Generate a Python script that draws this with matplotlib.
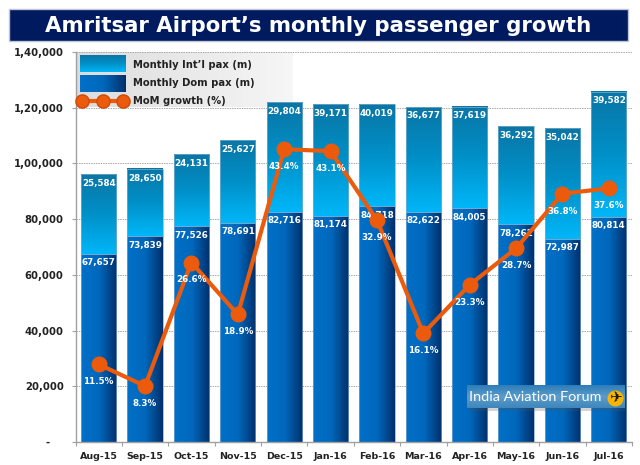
#!/usr/bin/env python3
import numpy as np
import matplotlib
matplotlib.use('Agg')
import matplotlib.pyplot as plt
from matplotlib.colors import LinearSegmentedColormap
from matplotlib.patches import Rectangle

months = ['Aug-15', 'Sep-15', 'Oct-15', 'Nov-15', 'Dec-15', 'Jan-16',
          'Feb-16', 'Mar-16', 'Apr-16', 'May-16', 'Jun-16', 'Jul-16']
dom_pax = [67657, 73839, 77526, 78691, 82716, 81174,
           84718, 82622, 84005, 78262, 72987, 80814]
# the labels printed on the int'l bars do not agree with the drawn heights
intl_labels = ['25,584', '28,650', '24,131', '25,627', '29,804', '39,171',
               '40,019', '36,677', '37,619', '36,292', '35,042', '39,582']
intl_drawn = [28540, 24060, 25770, 29710, 39280, 40030,
              36480, 37680, 36300, 35040, 39610, 44890]
growth = [11.5, 8.3, 26.6, 18.9, 43.4, 43.1, 32.9, 16.1, 23.3, 28.7, 36.8, 37.6]
yticks = [0, 20000, 40000, 60000, 80000, 100000, 120000, 140000]
ytick_labels = ['-    ', '20,000', '40,000', '60,000', '80,000',
                '1,00,000', '1,20,000', '1,40,000']

W, H = 640, 465
ORANGE = '#EC5A0C'
intl_cmap = LinearSegmentedColormap.from_list('intl', ['#0A76A6', '#0090C8', '#00B6F8'])
dom_cmap = LinearSegmentedColormap.from_list('dom', ['#0070C8', '#0068BC', '#00306C'])
vgrad = np.linspace(0, 1, 64).reshape(-1, 1)
hgrad = np.linspace(0, 1, 64).reshape(1, -1)

plt.rcParams['font.family'] = 'DejaVu Sans'
fig = plt.figure(figsize=(W / 100, H / 100), dpi=100)


def pixel_axes(zorder):
    # full figure axes working in image pixels
    a = fig.add_axes([0, 0, 1, 1], zorder=zorder)
    a.axis('off')
    return a


# legend backing goes under the bars, the Dec-15 bar overlaps it
under = pixel_axes(-1)
legend_bg = LinearSegmentedColormap.from_list('lg', ['#DCDCDC', '#F6F6F6'])
under.imshow(hgrad, cmap=legend_bg, aspect='auto', extent=(76, 293, 107, 53))
under.set_xlim(0, W)
under.set_ylim(H, 0)

ax = fig.add_axes([75.5 / W, 1 - 442 / H, (632 - 75.5) / W, (442 - 52) / H])
ax.patch.set_visible(False)

x = np.arange(len(months))
bar_w = 0.76
dom_bars = ax.bar(x, dom_pax, bar_w, color='none', edgecolor='#7FA8D0', linewidth=0.5, zorder=3)
intl_bars = ax.bar(x, intl_drawn, bar_w, bottom=dom_pax, color='none', edgecolor='#7FB0CC',
                   linewidth=0.5, zorder=3)
for bar in dom_bars:
    ax.imshow(hgrad, cmap=dom_cmap, aspect='auto', zorder=2,
              extent=(bar.get_x(), bar.get_x() + bar.get_width(), 0, bar.get_height()))
for bar in intl_bars:
    ax.imshow(vgrad, cmap=intl_cmap, aspect='auto', zorder=2, origin='upper',
              extent=(bar.get_x(), bar.get_x() + bar.get_width(),
                      bar.get_y(), bar.get_y() + bar.get_height()))

for i, val in enumerate(dom_pax):
    ax.annotate(f'{val:,}', (x[i], val), xytext=(0, -6.5), textcoords='offset points',
                ha='center', va='center', color='white', fontsize=6.3, fontweight='bold', zorder=4)
    ax.annotate(intl_labels[i], (x[i], val + intl_drawn[i]), xytext=(0, -6.5),
                textcoords='offset points', ha='center', va='center', color='white',
                fontsize=6.3, fontweight='bold', zorder=4)

ax.set_xlim(-0.5, len(months) - 0.5)
ax.set_ylim(0, 140000)
ax.set_yticks(yticks)
ax.set_yticklabels(ytick_labels, fontsize=7.3, fontweight='bold', color='#222222')
ax.set_xticks(x)
ax.set_xticklabels(months, fontsize=6.8, fontweight='bold', color='#222222')
ax.set_xticks(np.arange(len(months) + 1) - 0.5, minor=True)
ax.tick_params(axis='x', which='major', length=0, pad=7.5)
ax.tick_params(axis='x', which='minor', length=3, color='#A0A0A0', width=0.8)
ax.tick_params(axis='y', length=3, color='#A0A0A0', width=0.8, pad=5.5)
ax.set_axisbelow(True)
ax.grid(axis='y', color='#A8A8A8', linestyle=(0, (1.5, 1)), linewidth=0.7)
for side in ('top', 'right'):
    ax.spines[side].set_visible(False)
for side in ('left', 'bottom'):
    ax.spines[side].set_color('#A0A0A0')
    ax.spines[side].set_linewidth(1)

# growth sits on its own hidden scale
ax2 = ax.twinx()
ax2.set_ylim(0, 57.8)
ax2.axis('off')
ax2.plot(x, growth, color=ORANGE, linewidth=3, marker='o', markersize=10.5, zorder=3)
for i, val in enumerate(growth):
    ax2.annotate(f'{val}%', (x[i], val), xytext=(0, -12.5), textcoords='offset points',
                 ha='center', va='center', color='white', fontsize=6.3, fontweight='bold', zorder=4)

# overlay in pixel coordinates for title, legend and watermark
ov = pixel_axes(5)

ov.add_patch(Rectangle((9, 9), 619, 32, facecolor='#001A60', edgecolor='#C0C4D8', linewidth=1))
ov.text(318, 25.5, 'Amritsar Airport\u2019s monthly passenger growth', color='white',
        fontsize=15.3, fontweight='bold', ha='center', va='center')

ov.imshow(vgrad, cmap=intl_cmap, aspect='auto', extent=(80, 126, 72, 55), origin='upper', zorder=2)
ov.imshow(hgrad, cmap=dom_cmap, aspect='auto', extent=(80, 126, 92, 75), zorder=2)
ov.plot([82, 102.5, 123], [101, 101, 101], color=ORANGE, linewidth=3, marker='o',
        markersize=9.5, markeredgecolor='#D04A08', zorder=3)
for label, ypos in [('Monthly Int\u2019l pax (m)', 65.5), ('Monthly Dom pax (m)', 83),
                    ('MoM growth (%)', 101)]:
    ov.text(133, ypos, label, fontsize=7.2, fontweight='bold', color='#222222', va='center', zorder=3)

ov.add_patch(Rectangle((469, 388), 158, 23, facecolor='#555555', alpha=0.25, edgecolor='none', zorder=2))
box = LinearSegmentedColormap.from_list('wm', ['#2E7DB8', '#5C9CCB', '#3F86BC'])
ov.imshow(vgrad, cmap=box, aspect='auto', extent=(467, 625, 408, 385), origin='upper', zorder=3)
ov.text(469, 397, 'India Aviation Forum', fontsize=10.4, family='Lato', color='white', va='center', zorder=4)
ov.plot([615], [398], marker='o', markersize=11.5, color='#F7B500', markeredgecolor='none', zorder=4)
ov.text(615, 398, '\u2708', fontsize=11, color='#1A1A1A', ha='center', va='center', zorder=5)
ov.set_xlim(0, W)
ov.set_ylim(H, 0)

fig.savefig('out.png', dpi=100)
